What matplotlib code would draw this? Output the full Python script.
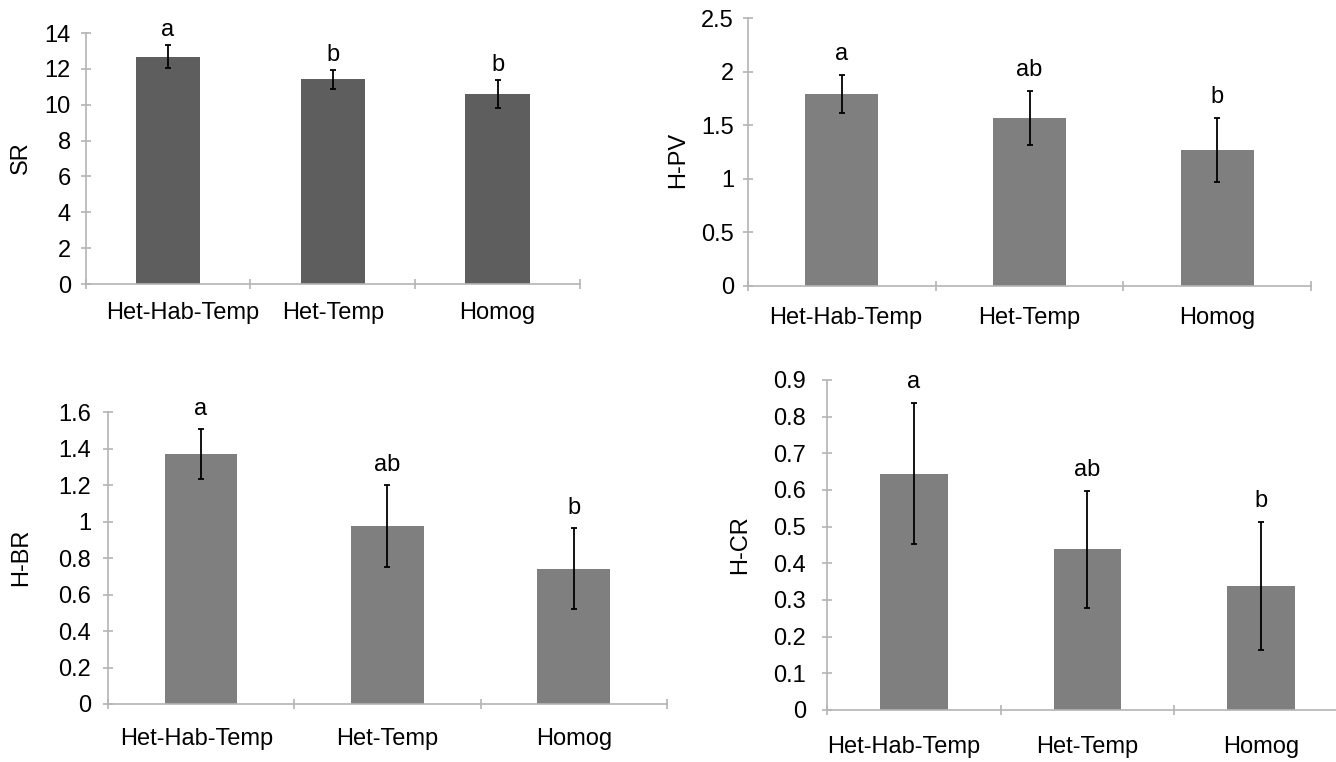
import matplotlib.pyplot as plt
import matplotlib.transforms as mtransforms
import numpy as np

plt.rcParams['font.family'] = ['Liberation Sans', 'DejaVu Sans']

W, H = 1336, 762

##### DATA #####
groups = ["Het-Hab-Temp", "Het-Temp", "Homog"]

sr_mean = [12.68, 11.41, 10.58]
sr_err = [0.63, 0.51, 0.78]
sr_letters = ["a", "b", "b"]

hpv_mean = [1.79, 1.566, 1.272]
hpv_err = [0.18, 0.25, 0.30]
hpv_letters = ["a", "ab", "b"]

hbr_mean = [1.371, 0.976, 0.742]
hbr_err = [0.135, 0.224, 0.222]
hbr_letters = ["a", "ab", "b"]

hcr_mean = [0.644, 0.438, 0.339]
hcr_err = [0.192, 0.159, 0.174]
hcr_letters = ["a", "ab", "b"]
################

AXIS_GREY = "#b4b4b4"
FS = 17


def px_rect(x0, x1, y_top, y_bottom):
    # axes rectangle in figure fraction from pixel coordinates
    return [x0 / W, 1 - y_bottom / H, (x1 - x0) / W, (y_bottom - y_top) / H]


def plot_bars(fig, rect, means, errs, letters, ylabel, ylabel_xy,
              ymax, ystep, yticklabels, color, xpad, ypad, letter_off,
              first_shift=0):
    ax = fig.add_axes(rect)
    x = np.arange(len(groups))
    ax.bar(x, means, width=0.39, color=color, zorder=2)
    ax.errorbar(x, means, yerr=errs, fmt="none", ecolor="black",
                elinewidth=1.3, capsize=2.5, capthick=1.3, zorder=3)
    for xi, m, e, lab in zip(x, means, errs, letters):
        ax.annotate(lab, (xi, m + e), xytext=(0, letter_off),
                    textcoords="offset pixels", ha="center", va="center",
                    fontsize=FS)
    ax.set_xlim(-0.5, len(groups) - 0.5)
    ax.set_ylim(0, ymax)
    ax.set_yticks(np.arange(len(yticklabels)) * ystep)
    ax.set_yticklabels(yticklabels)
    ax.set_xticks(x)
    ax.set_xticklabels(groups)
    ax.set_xticks(np.arange(len(groups) + 1) - 0.5, minor=True)
    ax.tick_params(axis="x", which="major", length=0, pad=xpad, labelsize=FS)
    ax.tick_params(axis="x", which="minor", direction="inout", length=7,
                   width=1.2, color=AXIS_GREY)
    ax.tick_params(axis="y", direction="inout", length=7, width=1.2,
                   color=AXIS_GREY, pad=ypad, labelsize=FS)
    if first_shift:
        # first category label sits off-centre in the original
        lab0 = ax.get_xticklabels()[0]
        lab0.set_transform(lab0.get_transform() + mtransforms.ScaledTranslation(
            first_shift / 100, 0, fig.dpi_scale_trans))
    for side in ["top", "right"]:
        ax.spines[side].set_visible(False)
    for side in ["left", "bottom"]:
        ax.spines[side].set_color(AXIS_GREY)
        ax.spines[side].set_linewidth(1.2)
    fig.text(ylabel_xy[0] / W, 1 - ylabel_xy[1] / H, ylabel, rotation=90,
             ha="center", va="center", fontsize=FS)
    return ax


fig = plt.figure(figsize=(W / 100, H / 100), dpi=100)

plot_bars(fig, px_rect(85.5, 580, 33, 284), sr_mean, sr_err, sr_letters,
          "SR", (21, 158), 14, 2, ["0", "2", "4", "6", "8", "10", "12", "14"],
          "#5e5e5e", xpad=12.6, ypad=7, letter_off=15, first_shift=15)

plot_bars(fig, px_rect(748, 1311, 18.3, 285.7), hpv_mean, hpv_err, hpv_letters,
          "H-PV", (678, 160), 2.5, 0.5, ["0", "0.5", "1", "1.5", "2", "2.5"],
          "#7f7f7f", xpad=15.3, ypad=6.5, letter_off=21, first_shift=4)

plot_bars(fig, px_rect(107.7, 667, 412.3, 704), hbr_mean, hbr_err, hbr_letters,
          "H-BR", (21, 557), 1.6, 0.2,
          ["0", "0.2", "0.4", "0.6", "0.8", "1", "1.2", "1.4", "1.6"],
          "#7f7f7f", xpad=17.4, ypad=8.6, letter_off=20, first_shift=-4)

plot_bars(fig, px_rect(826.8, 1348, 380, 710), hcr_mean, hcr_err, hcr_letters,
          "H-CR", (740, 545), 0.9, 0.1,
          ["0", "0.1", "0.2", "0.3", "0.4", "0.5", "0.6", "0.7", "0.8", "0.9"],
          "#7f7f7f", xpad=18.4, ypad=11.5, letter_off=21, first_shift=-10)

plt.savefig("out.png", dpi=100)
plt.close()
